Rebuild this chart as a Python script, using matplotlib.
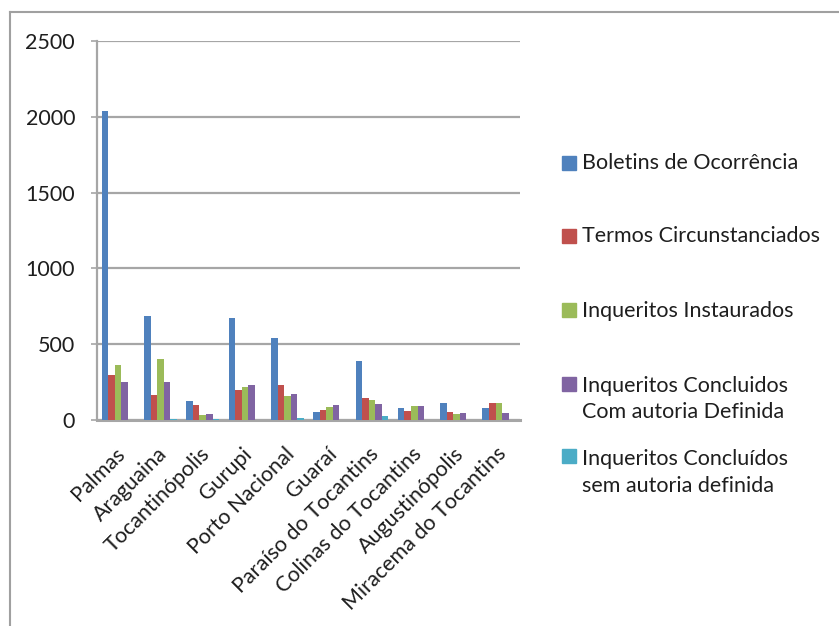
import matplotlib
matplotlib.use("Agg")
import matplotlib.pyplot as plt
import matplotlib.transforms as mtrans
import numpy as np
from matplotlib.patches import Rectangle
from matplotlib.lines import Line2D

plt.rcParams['font.family'] = ['Lato', 'DejaVu Sans']

categories = ["Palmas", "Araguaina", "Tocantinópolis", "Gurupi", "Porto Nacional",
              "Guaraí", "Paraíso do Tocantins", "Colinas do Tocantins",
              "Augustinópolis", "Miracema do Tocantins"]
series_names = ["Boletins de Ocorrência", "Termos Circunstanciados",
                "Inqueritos Instaurados",
                "Inqueritos Concluidos\nCom autoria Definida",
                "Inqueritos Concluídos\nsem autoria definida"]
boletins = [2040, 686, 128, 671, 539, 55, 389, 81, 114, 81]
termos = [297, 165, 99, 196, 231, 66, 145, 59, 55, 114]
instaurados = [363, 400, 33, 218, 158, 88, 132, 94, 42, 110]
concl_com = [253, 249, 40, 231, 171, 99, 106, 94, 46, 44]
concl_sem = [0, 8, 8, 0, 13, 0, 26, 0, 0, 3]
series = [boletins, termos, instaurados, concl_com, concl_sem]
colors = ["#4F81BD", "#C0504D", "#9BBB59", "#8064A2", "#4BACC6"]
yticks = [0, 500, 1000, 1500, 2000, 2500]

W, H = 839, 626
FS = 15.5
TXT = "#1e1e1e"
fig = plt.figure(figsize=(W / 100, H / 100), dpi=100)
ax = fig.add_axes([97 / W, 1 - 420 / H, (520 - 97) / W, (420 - 41) / H])

x = np.arange(len(categories))
bw = 0.155
for i, (vals, c) in enumerate(zip(series, colors)):
    ax.bar(x + (i - 2) * bw, vals, width=bw, color=c, edgecolor='none', zorder=3)

grid_c = "#A6A6A6"
ax.set_ylim(0, 2500)
ax.set_xlim(-0.5, len(categories) - 0.5)
ax.set_yticks(yticks)
ax.set_yticklabels([str(t) for t in yticks], fontsize=FS, color=TXT)
ax.yaxis.grid(True, color=grid_c, linewidth=1.6, zorder=0)
ax.set_axisbelow(True)
ax.tick_params(axis='y', length=4.3, width=1.2, color=grid_c, pad=11.5)
ax.tick_params(axis='x', length=0, pad=17)
ax.set_xticks(x)
ax.set_xticklabels(categories, rotation=45, ha='right', rotation_mode='anchor',
                   fontsize=FS, color=TXT)
shift = mtrans.ScaledTranslation(-3 / 100, 0, fig.dpi_scale_trans)
for lbl in ax.get_xticklabels():
    lbl.set_transform(lbl.get_transform() + shift)
for s in ['top', 'right']:
    ax.spines[s].set_visible(False)
ax.spines['left'].set_color(grid_c)
ax.spines['left'].set_linewidth(1.6)
ax.spines['bottom'].set_color(grid_c)
ax.spines['bottom'].set_linewidth(2.2)

# manual legend: square top y, baselines of each text line (pixels from top)
sq_top = [156, 229, 303, 377, 449]
baselines = [[169], [242], [317], [392, 418], [465, 492]]
for name, c, st, bl in zip(series_names, colors, sq_top, baselines):
    fig.add_artist(Rectangle((562 / W, 1 - (st + 13.5) / H), 13.5 / W, 13.5 / H,
                             transform=fig.transFigure, color=c))
    for line, b in zip(name.split("\n"), bl):
        fig.text(582 / W, 1 - b / H, line, fontsize=FS, color=TXT,
                 va='baseline', ha='left')

# outer chart frame (cropped)
fig.add_artist(Line2D([10 / W, 10 / W], [0, 1 - 12 / H], transform=fig.transFigure,
                      color="#A0A0A0", linewidth=1.5))
fig.add_artist(Line2D([10 / W, 1], [1 - 12 / H, 1 - 12 / H], transform=fig.transFigure,
                      color="#A0A0A0", linewidth=1.5))

fig.savefig("out.png", dpi=100)
